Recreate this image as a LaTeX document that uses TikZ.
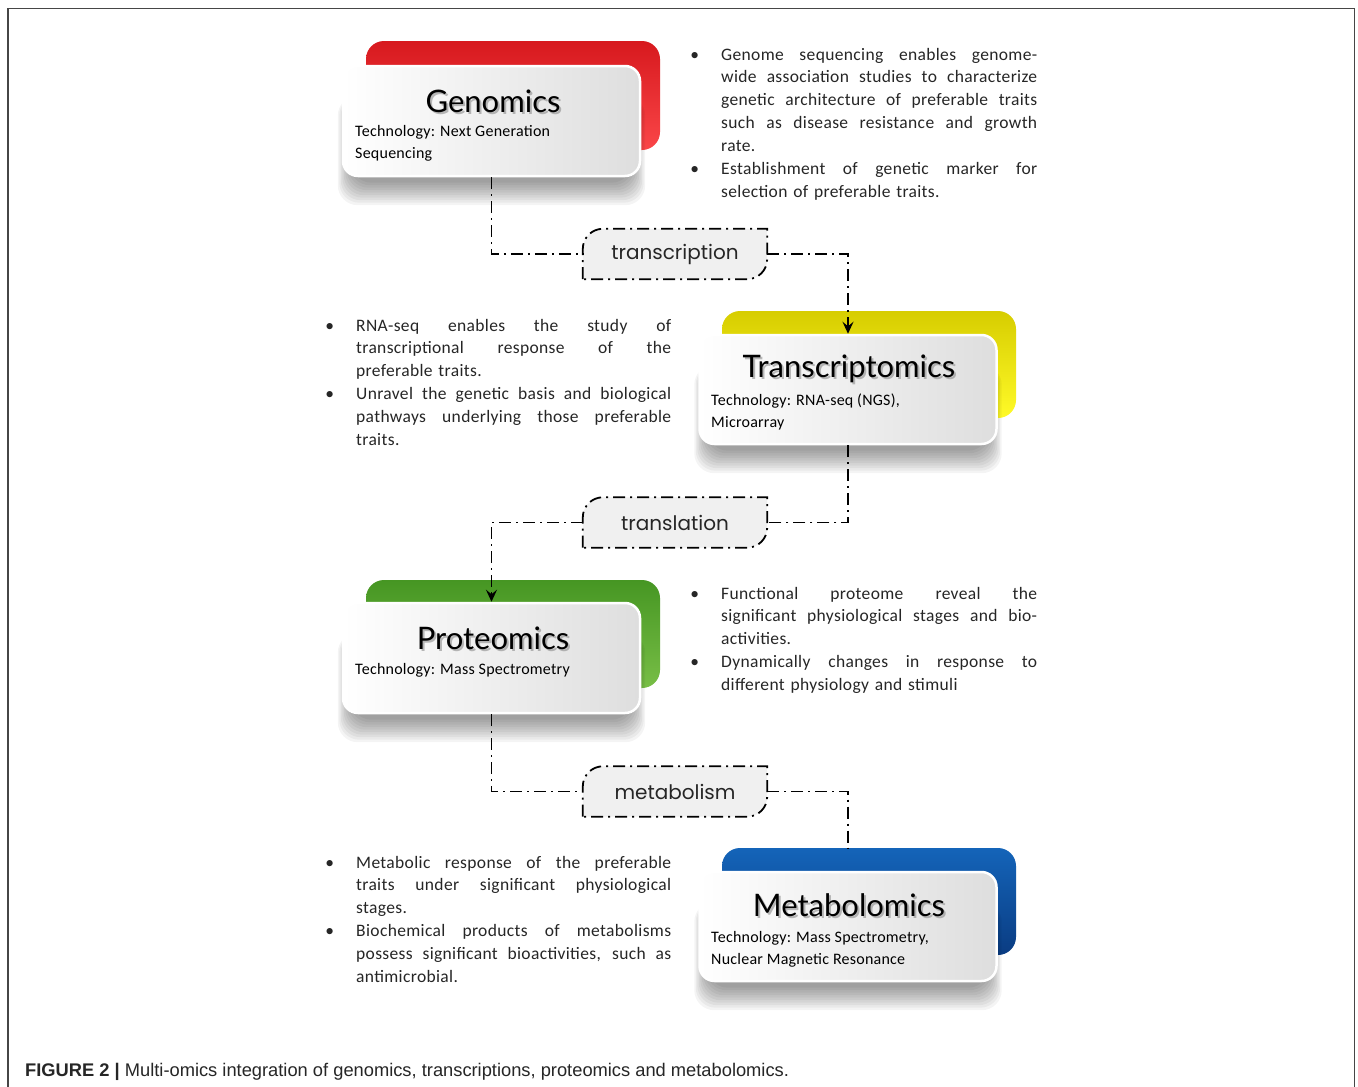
\documentclass[tikz,border=0pt]{standalone}
\usepackage{fontspec}
\setmainfont{Carlito}
\newfontfamily\titlefont{Lato}
\newfontfamily\lblfont{Poppins}
\newfontfamily\capfont{Liberation Sans}
\newfontfamily\techfont[LetterSpace=1.5]{Carlito}
\newfontfamily\bodyfont[LetterSpace=2]{Carlito}
\usetikzlibrary{calc,arrows.meta}
\definecolor{redA}{RGB}{215,25,30}
\definecolor{redB}{RGB}{250,70,72}
\definecolor{yelA}{RGB}{215,205,0}
\definecolor{yelB}{RGB}{255,250,40}
\definecolor{grnA}{RGB}{70,150,35}
\definecolor{grnB}{RGB}{120,190,70}
\definecolor{bluA}{RGB}{10,60,130}
\definecolor{bluB}{RGB}{20,100,185}
\definecolor{frame}{RGB}{70,70,70}
\newcommand\jl[2][316pt]{\leavevmode\hbox to #1{\spaceskip=0pt\xspaceskip=0pt\relax #2}}
\newcommand\bl{\leavevmode\llap{\textbullet\hspace{22pt}}}
\newcommand\boxshadow[1]{%
  \foreach \i in {1,...,10}{%
    \fill[black,opacity=0.045,rounded corners=20pt]
      ($(#1.south west)+({10-1.5*\i},{4+2.5*\i})$) rectangle
      ($(#1.north east)+({-10+1.5*\i},30)$);}}
\tikzset{
  wbox/.style={rounded corners=15pt, draw=white, line width=2.5pt,
    left color=white, right color=black!13, minimum width=297pt,
    minimum height=110pt, inner sep=0pt},
  cbox/.style={rounded corners=18pt, minimum width=294pt,
    minimum height=108pt, inner sep=0pt},
  ttl/.style={anchor=base, inner sep=0pt, font=\titlefont\fontsize{31}{36}\selectfont},
  ttlsh/.style={ttl, text=black!45, opacity=0.6},
  tech/.style={anchor=base west, inner sep=0pt, align=left,
    font=\techfont\fontsize{16}{22}\selectfont},
  body/.style={anchor=base west, inner sep=0pt, align=left,
    font=\bodyfont\fontsize{17.5}{22.9}\selectfont, text=black!85},
  lbl/.style={minimum width=184pt, minimum height=50pt, inner sep=0pt,
    font=\lblfont\fontsize{20}{24}\selectfont, text=black!85},
  lblshape/.style={fill=black!6, draw=black, line width=1.8pt,
    dash pattern=on 12pt off 5pt on 2pt off 5pt},
  conn/.style={line width=1.8pt, dash pattern=on 12pt off 5pt on 2pt off 5pt},
  tip/.style={-{Stealth[length=12pt,width=11pt,inset=4.5pt]}},
}
\newcommand\lblbox[1]{%
  \path[lblshape] (#1.south west) -- ($(#1.north west)+(0,20)$)
    .. controls +(0,-11) and +(-11,0) .. ($(#1.north west)+(20,0)$)
    -- (#1.north east) -- ($(#1.south east)+(0,-20)$)
    .. controls +(0,11) and +(11,0) .. ($(#1.south east)+(-20,0)$) -- cycle;}
\begin{document}
\begin{tikzpicture}[x=1pt,y=-1pt]
\useasboundingbox (0,0) rectangle (1358,1087);
\fill[white] (0,0) rectangle (1358,1087);
\draw[frame, line width=1.5pt] (8,1090) -- (8,8.3) -- (1354.5,8.3) -- (1354.5,1090);

% coloured back boxes
\node[cbox, top color=redA, bottom color=redB, minimum height=109pt] (genc) at (513,95.5) {};
\node[cbox, top color=yelA, bottom color=yelB, minimum height=107pt] (trac) at (869,364.5) {};
\node[cbox, top color=grnA, bottom color=grnB] (proc) at (513,634) {};
\node[cbox, top color=bluB, bottom color=bluA, minimum height=107pt] (metc) at (869,901.5) {};

% white boxes with shadows
\path (491.5,121) node[minimum width=297pt, minimum height=110pt, inner sep=0pt] (gsh) {};
\boxshadow{gsh}
\node[wbox] (gen) at (491.5,121) {};
\path (848,389.5) node[minimum width=297pt, minimum height=109pt, inner sep=0pt] (tsh) {};
\boxshadow{tsh}
\node[wbox, minimum height=109pt] (tra) at (848,389.5) {};
\path (491.5,658) node[minimum width=297pt, minimum height=110pt, inner sep=0pt] (psh) {};
\boxshadow{psh}
\node[wbox] (pro) at (491.5,658) {};
\path (848,926.5) node[minimum width=297pt, minimum height=109pt, inner sep=0pt] (msh) {};
\boxshadow{msh}
\node[wbox, minimum height=109pt] (met) at (848,926.5) {};

% titles
\node[ttlsh] (gts) at (495,114.5) {Genomics};
\node[ttl] (gt) at (493,112) {Genomics};
\node[ttlsh] (tts) at (851,379.5) {Transcriptomics};
\node[ttl] (tt) at (849,377) {Transcriptomics};
\node[ttlsh] (pts) at (495,651.5) {Proteomics};
\node[ttl] (pt) at (493,649) {Proteomics};
\node[ttlsh] (mts) at (851,918.5) {Metabolomics};
\node[ttl] (mt) at (849,916) {Metabolomics};

% technology lines (base = last line)
\node[tech] (gtech) at (355,158) {Technology: Next Generation\\Sequencing};
\node[tech] (ttech) at (711,427) {Technology: RNA-seq (NGS),\\Microarray};
\node[tech] (ptech) at (355,674) {Technology: Mass Spectrometry};
\node[tech] (mtech) at (711,964) {Technology: Mass Spectrometry,\\Nuclear Magnetic Resonance};

% bullet texts
\node[body, text width=316pt] (gtxt) at (721,60) {%
\bl\jl{Genome sequencing enables genome-}\\
\jl{wide association studies to characterize}\\
\jl{genetic architecture of preferable traits}\\
\jl{such as disease resistance and growth}\\
rate.\\
\bl\jl{Establishment of genetic marker for}\\
selection of preferable traits.};
\node[body, text width=315pt] (ttxt) at (356,331) {%
\bl\jl[315pt]{RNA-seq enables the study of}\\
\jl[315pt]{transcriptional response of the}\\
preferable traits.\\
\bl\jl[315pt]{Unravel the genetic basis and biological}\\
\jl[315pt]{pathways underlying those preferable}\\
traits.};
\node[body, text width=316pt] (ptxt) at (721,599) {%
\bl\jl{Functional proteome reveal the}\\
\jl{significant physiological stages and bio-}\\
activities.\\
\bl\jl{Dynamically changes in response to}\\
different physiology and stimuli};
\node[body, text width=315pt] (mtxt) at (356,868) {%
\bl\jl[315pt]{Metabolic response of the preferable}\\
\jl[315pt]{traits under significant physiological}\\
stages.\\
\bl\jl[315pt]{Biochemical products of metabolisms}\\
\jl[315pt]{possess significant bioactivities, such as}\\
antimicrobial.};

% process labels
\node[lbl] (t1) at (675,254) {};
\lblbox{t1}
\node[lbl] (t1x) at (675,254) {transcription};
\node[lbl] (t2) at (675,522.5) {};
\lblbox{t2}
\node[lbl] (t2x) at (675,522.5) {translation};
\node[lbl] (t3) at (675,791.5) {};
\lblbox{t3}
\node[lbl] (t3x) at (675,791.5) {metabolism};

% connectors
\draw[conn] (gen.south) |- (t1.west);
\draw[conn,tip] (t1.east) -| (tra.north);
\draw[conn] (tra.south) |- (t2.east);
\draw[conn,tip] (t2.west) -| (pro.north);
\draw[conn] (pro.south) |- (t3.west);
\coordinate (mend) at (met.north |- metc.north);
\draw[conn] (t3.east) -| (mend);

% caption
\node[anchor=base west, inner sep=0pt, font=\capfont\fontsize{18.3}{21}\selectfont, text=black!85] (cap) at (25,1076)
  {\textbf{FIGURE 2 |} Multi-omics integration of genomics, transcriptions, proteomics and metabolomics.};
\end{tikzpicture}
\end{document}
